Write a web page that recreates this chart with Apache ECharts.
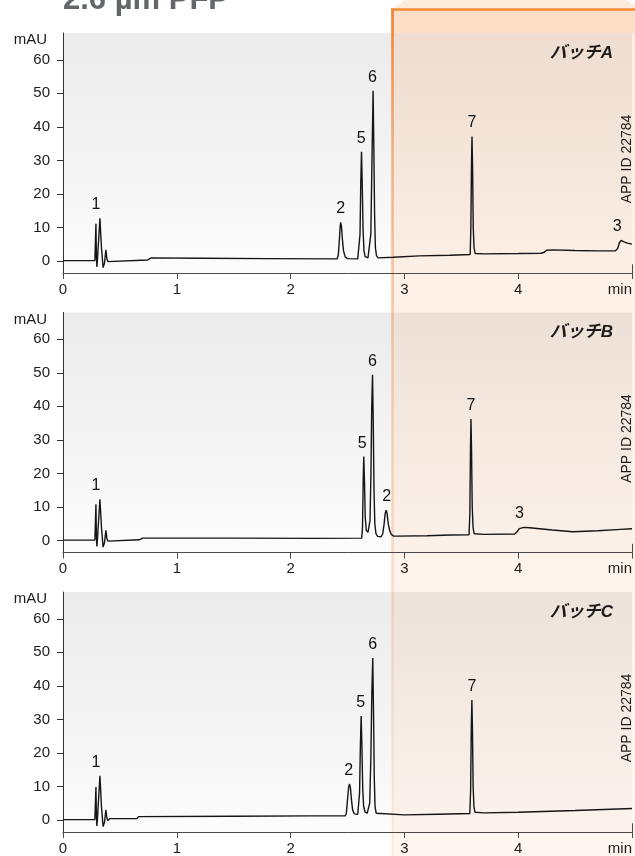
<!DOCTYPE html>
<html><head><meta charset="utf-8">
<script src="https://cdn.jsdelivr.net/npm/echarts@6/dist/echarts.min.js"></script>
<style>html,body{margin:0;padding:0;background:#fff}#c{width:635px;height:856px}</style>
</head><body><div id="c"></div>
<script>
// ---------- data ----------
const xTickLabels = ['0', '1', '2', '3', '4', 'min'];
const yTickValues = [0, 10, 20, 30, 40, 50, 60];
const panelNames = ['バッチA', 'バッチB', 'バッチC'];
const appId = 'APP ID 22784';
const titleText = '2.6 µm PFP';
const yUnit = 'mAU';

const traceA = [[0,0.1],[0.28,0.1],[0.2845,0.4],[0.2895,11.1],[0.2935,1.0],[0.2975,-1.8],[0.303,0.5],[0.3246,12.7],[0.338,4.0],[0.352,-2.0],[0.364,-0.8],[0.377,3.3],[0.386,0.5],[0.395,-0.2],[0.41,0.3],[0.745,0.3],[0.758,0.8],[0.775,0.9],[1.2,0.8],[1.8,0.7],[2.41,0.6],[2.42,2.0],[2.428,6.0],[2.435,10.0],[2.44,11.5],[2.447,10.3],[2.455,6.5],[2.465,3.0],[2.48,1.2],[2.5,0.7],[2.59,0.6],[2.603,1.0],[2.61,8.0],[2.617,24.0],[2.623,32.6],[2.629,24.0],[2.637,9.0],[2.645,3.0],[2.655,1.3],[2.68,0.9],[2.695,1.2],[2.705,8.0],[2.715,30.0],[2.725,50.8],[2.731,35.0],[2.738,14.0],[2.745,4.0],[2.755,1.5],[2.77,0.9],[2.9,1.1],[3.13,1.5],[3.4,1.7],[3.578,1.9],[3.584,10.0],[3.59,30.0],[3.594,37.1],[3.599,28.0],[3.605,10.0],[3.612,4.0],[3.622,2.2],[3.7,2.1],[4.0,2.2],[4.2,2.3],[4.23,2.6],[4.25,3.2],[4.3,3.3],[4.5,3.1],[4.7,3.0],[4.855,3.0],[4.875,3.8],[4.89,5.5],[4.905,6.1],[4.93,5.7],[4.96,5.3],[5.0,5.0]];
const traceB = [[0,0.1],[0.28,0.1],[0.2845,0.4],[0.2895,10.8],[0.2935,1.0],[0.2975,-1.8],[0.303,0.5],[0.3246,12.3],[0.338,4.0],[0.352,-2.0],[0.364,-0.8],[0.377,3.0],[0.386,0.5],[0.395,-0.2],[0.41,0.2],[0.67,0.2],[0.683,0.6],[0.7,0.7],[1.5,0.7],[2.2,0.6],[2.625,0.7],[2.632,4.0],[2.638,18.0],[2.643,25.0],[2.649,18.0],[2.656,7.0],[2.665,3.0],[2.68,2.4],[2.69,2.4],[2.698,6.0],[2.706,20.0],[2.713,40.0],[2.72,49.4],[2.726,36.0],[2.733,15.0],[2.74,5.0],[2.75,2.0],[2.765,1.2],[2.795,1.1],[2.81,2.0],[2.822,5.0],[2.832,8.2],[2.84,9.0],[2.848,8.0],[2.858,5.0],[2.87,3.0],[2.885,1.8],[2.905,1.3],[2.93,1.3],[3.2,1.4],[3.4,1.6],[3.568,1.7],[3.575,8.0],[3.581,28.0],[3.585,36.2],[3.59,27.0],[3.596,10.0],[3.603,4.0],[3.613,2.0],[3.7,1.8],[3.97,1.9],[3.99,2.6],[4.01,3.5],[4.05,3.9],[4.1,3.8],[4.3,3.1],[4.48,2.6],[4.7,2.9],[4.9,3.3],[5.0,3.5]];
const traceC = [[0,0.1],[0.28,0.1],[0.2845,0.4],[0.2895,9.8],[0.2935,1.0],[0.2975,-1.8],[0.303,0.5],[0.3246,13.2],[0.338,4.0],[0.352,-2.0],[0.364,-0.8],[0.377,3.0],[0.386,0.5],[0.395,-0.2],[0.41,0.4],[0.65,0.4],[0.663,1.0],[0.68,1.1],[1.5,1.1],[2.2,1.2],[2.48,1.2],[2.49,2.0],[2.5,6.0],[2.51,9.8],[2.518,10.7],[2.526,9.5],[2.535,6.0],[2.545,3.0],[2.56,1.8],[2.575,1.6],[2.59,1.7],[2.598,2.0],[2.606,8.0],[2.613,22.0],[2.62,31.0],[2.626,23.0],[2.634,9.0],[2.642,4.0],[2.655,2.3],[2.673,2.0],[2.685,2.3],[2.695,5.0],[2.705,18.0],[2.714,38.0],[2.722,48.3],[2.728,34.0],[2.735,13.0],[2.742,4.0],[2.752,2.0],[2.766,1.5],[3.0,1.5],[3.3,1.7],[3.575,1.9],[3.582,9.0],[3.588,28.0],[3.593,35.8],[3.598,27.0],[3.604,10.0],[3.611,4.0],[3.62,2.3],[3.7,2.1],[4.0,2.3],[4.5,2.8],[5.0,3.4]];

const peaksA = [[0.29,12.8,'1'],[2.44,11.5,'2'],[2.62,32.6,'5'],[2.72,50.8,'6'],[3.594,37.1,'7'],[4.87,6.1,'3']];
const peaksB = [[0.29,12.3,'1'],[2.63,25.0,'5'],[2.72,49.4,'6'],[2.845,9.0,'2'],[3.585,36.2,'7'],[4.01,3.9,'3']];
const peaksC = [[0.29,13.2,'1'],[2.51,10.7,'2'],[2.615,31.0,'5'],[2.722,48.3,'6'],[3.593,35.8,'7']];

const traces = [traceA, traceB, traceC];
const peaks = [peaksA, peaksB, peaksC];

// ---------- layout ----------
const FONT = '"Liberation Sans", Arial, "Noto Sans CJK JP", sans-serif';
const TXT = '#1d1b1c';
const gridTops = [33, 312.5, 592];
const gridH = 240, gridLeft = 63, gridW = 570;
const yMin = -3.6, yMax = 68;

const chart = echarts.init(document.getElementById('c'), null, {renderer: 'canvas'});

const grids = [], xAxes = [], yAxes = [], series = [], graphics = [];
gridTops.forEach((top, i) => {
  grids.push({
    left: gridLeft, top: top, width: gridW, height: gridH, show: true, z: 0,
    borderWidth: 0,
    backgroundColor: {type: 'linear', x: 0, y: 0, x2: 0, y2: 1,
      colorStops: [{offset: 0, color: '#ebebeb'}, {offset: 1, color: '#fcfcfc'}]}
  });
  xAxes.push({
    type: 'value', gridIndex: i, min: 0, max: 5, interval: 1, z: 3,
    axisLine: {show: true, onZero: false, lineStyle: {color: '#4a4a4a', width: 1}},
    axisTick: {show: true, length: 6, lineStyle: {color: '#4a4a4a'}},
    splitLine: {show: false},
    axisLabel: {color: TXT, fontFamily: FONT, fontSize: 15, margin: 9,
      alignMaxLabel: 'right',
      formatter: v => xTickLabels[Math.round(v)]}
  });
  yAxes.push({
    type: 'value', gridIndex: i, min: yMin, max: yMax, z: 3,
    name: yUnit, nameLocation: 'end', nameGap: -7,
    nameTextStyle: {color: TXT, fontFamily: FONT, fontSize: 15, align: 'right', verticalAlign: 'middle', padding: [0, 16, 0, 0]},
    axisLine: {show: true, onZero: false, lineStyle: {color: '#333', width: 1}},
    axisTick: {show: true, length: 6, customValues: yTickValues, lineStyle: {color: '#333'}},
    splitLine: {show: false},
    axisLabel: {color: TXT, fontFamily: FONT, fontSize: 15, margin: 13, customValues: yTickValues}
  });
  series.push({
    type: 'line', xAxisIndex: i, yAxisIndex: i, data: traces[i], z: 4,
    symbol: 'none', animation: false, silent: true,
    lineStyle: {color: '#151515', width: 1.4},
    markLine: {symbol: ['none', 'none'], silent: true, animation: false,
      label: {show: false},
      lineStyle: {color: '#4a4a4a', width: 1, type: 'solid'},
      data: [[{coord: [5, yMin]}, {coord: [5, yMin + 2.6]}]]}
  });
  series.push({
    type: 'scatter', xAxisIndex: i, yAxisIndex: i, z: 5,
    data: peaks[i], symbol: 'circle', symbolSize: 1, silent: true, animation: false,
    itemStyle: {color: 'rgba(0,0,0,0)'},
    label: {show: true, position: 'top', distance: 5, color: '#111', fontFamily: FONT, fontSize: 16,
      opacity: 1, textBorderWidth: 0,
      formatter: p => p.value[2]}
  });
  graphics.push({
    type: 'text', z: 6, silent: true, x: 613, y: top + 20,
    style: {text: panelNames[i], fill: TXT, font: 'italic bold 17px ' + FONT, align: 'right', verticalAlign: 'middle'}
  });
  graphics.push({
    type: 'text', z: 6, silent: true, x: 627.5, y: top + 126, rotation: Math.PI / 2,
    style: {text: appId, fill: TXT, font: '14px ' + FONT, align: 'center', verticalAlign: 'middle'}
  });
});

// highlight box (decoration)
graphics.push({
  type: 'polygon', z: 1, silent: true,
  shape: {points: [[392, 9], [405, 0], [626, 0], [635, 5], [635, 9]]},
  style: {fill: '#fdebdc'}
});
graphics.push({
  type: 'rect', z: 1, silent: true,
  shape: {x: 392, y: 9, width: 243, height: 847},
  style: {fill: {type: 'linear', x: 0, y: 0, x2: 0, y2: 1, colorStops: [
    {offset: 0, color: 'rgba(250,165,100,0.38)'},
    {offset: 0.028, color: 'rgba(250,165,100,0.35)'},
    {offset: 0.0285, color: 'rgba(250,165,100,0.2)'},
    {offset: 0.33, color: 'rgba(250,165,100,0.15)'},
    {offset: 1, color: 'rgba(250,165,100,0.1)'}]}}
});
graphics.push({
  type: 'line', z: 2, silent: true,
  shape: {x1: 392.5, y1: 9, x2: 392.5, y2: 856},
  style: {lineWidth: 2.7, stroke: {type: 'linear', x: 0, y: 0, x2: 0, y2: 1, global: false, colorStops: [
    {offset: 0, color: 'rgba(242,130,50,1)'},
    {offset: 0.17, color: 'rgba(242,140,70,0.6)'},
    {offset: 0.5, color: 'rgba(245,150,90,0.35)'},
    {offset: 1, color: 'rgba(245,160,110,0.12)'}]}}
});
graphics.push({
  type: 'line', z: 2, silent: true,
  shape: {x1: 391, y1: 9.5, x2: 635, y2: 9.5},
  style: {lineWidth: 2.5, stroke: '#f28a35'}
});
graphics.push({
  type: 'text', z: 6, silent: true, x: 63, y: 0,
  style: {text: titleText, fill: '#63666a', font: 'bold 31px ' + FONT, align: 'left', verticalAlign: 'middle'}
});

chart.setOption({
  animation: false,
  grid: grids, xAxis: xAxes, yAxis: yAxes, series: series,
  graphic: {elements: graphics}
});
</script>
</body></html>
